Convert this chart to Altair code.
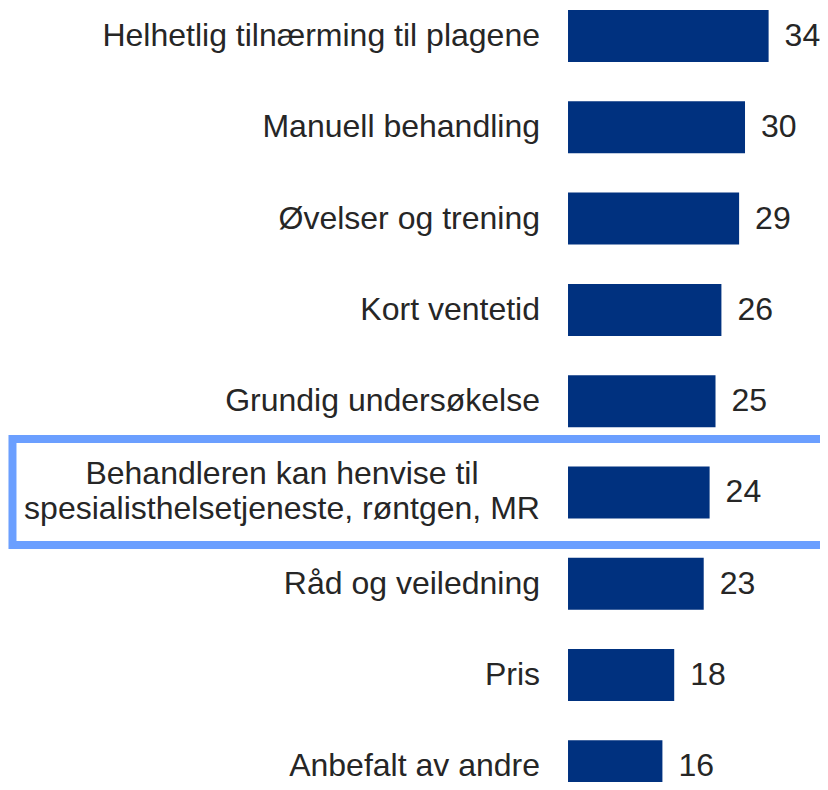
import altair as alt
import pandas as pd

categories = [
    "Helhetlig tilnærming til plagene",
    "Manuell behandling",
    "Øvelser og trening",
    "Kort ventetid",
    "Grundig undersøkelse",
    "Behandleren kan henvise til\nspesialisthelsetjeneste, røntgen, MR",
    "Råd og veiledning",
    "Pris",
    "Anbefalt av andre",
]
values = [34, 30, 29, 26, 25, 24, 23, 18, 16]
highlighted = [False, False, False, False, False, True, False, False, False]

df = pd.DataFrame({
    "label": categories,
    "value": values,
    "rank": list(range(len(categories))),
    "hl": highlighted,
})

BAR = "#00317f"
TXT = "#262626"
BOX = "#6b9fff"
FONT = "Liberation Sans"
FS = 32

W, H = 812, 774
x_scale = alt.Scale(domain=[-94.92, 42.71], nice=False, zero=False)
y_scale = alt.Scale(domain=[-0.3067, 8.171], reverse=True, nice=False, zero=False)

base = alt.Chart(df).transform_calculate(
    zero="0",
    y0="datum.rank - 0.285",
    y1="datum.rank + 0.285",
    lx="-4.75",
    cx="-48.48",
    bx0="-94.16",
    bx1="50",
    b0="datum.rank - 0.586",
    b1="datum.rank + 0.575",
)

bars = base.mark_rect(color=BAR).encode(
    x=alt.X("zero:Q", scale=x_scale, axis=None),
    x2="value:Q",
    y=alt.Y("y0:Q", scale=y_scale, axis=None),
    y2="y1:Q",
)

values_text = base.mark_text(
    align="left", baseline="middle", dx=16, font=FONT, fontSize=FS, color=TXT
).encode(
    x=alt.X("value:Q", scale=x_scale, axis=None),
    y=alt.Y("rank:Q", scale=y_scale, axis=None),
    text="value:Q",
)

labels = base.transform_filter("!datum.hl").mark_text(
    align="right", baseline="middle", font=FONT, fontSize=FS, color=TXT
).encode(
    x=alt.X("lx:Q", scale=x_scale, axis=None),
    y=alt.Y("rank:Q", scale=y_scale, axis=None),
    text="label:N",
)

hl_label = base.transform_filter("datum.hl").mark_text(
    align="center", baseline="middle", font=FONT, fontSize=FS, color=TXT,
    lineBreak="\n", lineHeight=35, dy=-18
).encode(
    x=alt.X("cx:Q", scale=x_scale, axis=None),
    y=alt.Y("rank:Q", scale=y_scale, axis=None),
    text="label:N",
)

box = base.transform_filter("datum.hl").mark_rect(
    fillOpacity=0, stroke=BOX, strokeWidth=8
).encode(
    x=alt.X("bx0:Q", scale=x_scale, axis=None),
    x2="bx1:Q",
    y=alt.Y("b0:Q", scale=y_scale, axis=None),
    y2="b1:Q",
)

chart = alt.layer(box, bars, values_text, labels, hl_label).properties(
    width=W, height=H, padding=0, autosize="none"
).configure_view(stroke=None)

chart.save("out.html", embed_options={"renderer": "svg", "actions": False})
